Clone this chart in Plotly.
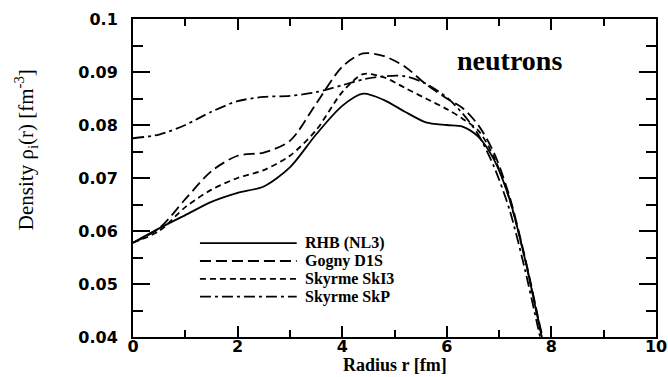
import plotly.graph_objects as go

# ---------------- data ----------------
radius = [0, 0.5, 1.0, 1.5, 2.0, 2.5, 3.0, 3.5, 4.0, 4.4, 4.8, 5.2, 5.6, 6.0, 6.3, 6.6, 6.9, 7.2, 7.5, 7.75, 7.95]

rhb_nl3 = [0.0578, 0.0605, 0.0630, 0.0655, 0.0672, 0.0684, 0.0720, 0.0782, 0.0836, 0.0859, 0.0847, 0.0825,
           0.0805, 0.0800, 0.0797, 0.0778, 0.0735, 0.0660, 0.0545, 0.0430, 0.0340]
gogny_d1s = [0.0578, 0.0605, 0.0660, 0.0713, 0.0742, 0.0748, 0.0770, 0.0840, 0.0910, 0.0935, 0.0930, 0.0910,
             0.0877, 0.0850, 0.0832, 0.0800, 0.0748, 0.0665, 0.0548, 0.0435, 0.0345]
skyrme_ski3 = [0.0578, 0.0600, 0.0645, 0.0678, 0.0700, 0.0715, 0.0742, 0.0790, 0.0862, 0.0896, 0.0890, 0.0870,
               0.0850, 0.0830, 0.0812, 0.0790, 0.0740, 0.0660, 0.0545, 0.0432, 0.0342]
skyrme_skp = [0.0775, 0.0782, 0.0800, 0.0825, 0.0845, 0.0853, 0.0855, 0.0862, 0.0875, 0.0886, 0.0892, 0.0892,
              0.0878, 0.0852, 0.0822, 0.0782, 0.0722, 0.0640, 0.0525, 0.0415, 0.0330]

series_names = ["RHB (NL3)", "Gogny D1S", "Skyrme SkI3", "Skyrme SkP"]
series_values = [rhb_nl3, gogny_d1s, skyrme_ski3, skyrme_skp]
series_dash = ["solid", "11px,5px", "6px,4px", "11px,4px,3px,4px"]

x_tick_vals = [0, 2, 4, 6, 8, 10]
x_tick_text = ["0", "2", "4", "6", "8", "10"]
y_tick_vals = [0.04, 0.05, 0.06, 0.07, 0.08, 0.09, 0.1]
y_tick_text = ["0.04", "0.05", "0.06", "0.07", "0.08", "0.09", "0.1"]

x_title = "<b>Radius r [fm]</b>"
y_title = "Density ρ<sub>i</sub>(r) [fm<sup>-3</sup>]"
panel_label = "<b>neutrons</b>"

# ---------------- figure ----------------
fig = go.Figure()
for name, vals, dash in zip(series_names, series_values, series_dash):
    fig.add_trace(go.Scatter(
        x=radius, y=vals, mode="lines", name=name, showlegend=False,
        line=dict(color="black", width=1.8, dash=dash, shape="spline", smoothing=0.8),
        cliponaxis=True,
    ))

tick_font = dict(family="DejaVu Sans", size=16, color="black", weight="bold")

fig.update_layout(
    width=668, height=377,
    margin=dict(l=133, r=12, t=19, b=40),
    paper_bgcolor="white", plot_bgcolor="white",
    xaxis=dict(
        range=[0, 10], tickvals=x_tick_vals, ticktext=x_tick_text,
        ticks="inside", ticklen=11, tickwidth=1.5, tickcolor="black",
        minor=dict(dtick=1, ticks="inside", ticklen=7, tickwidth=1.5, tickcolor="black"),
        showline=True, linecolor="black", linewidth=2, mirror="ticks",
        showgrid=False, zeroline=False, tickfont=tick_font, automargin=False,
        ticklabelstandoff=-6, ticklabeloverflow="allow",
    ),
    yaxis=dict(
        range=[0.04, 0.1], tickvals=y_tick_vals, ticktext=y_tick_text,
        ticks="inside", ticklen=17, tickwidth=1.5, tickcolor="black",
        minor=dict(dtick=0.005, ticks="inside", ticklen=10, tickwidth=1.5, tickcolor="black"),
        showline=True, linecolor="black", linewidth=2, mirror="ticks",
        showgrid=False, zeroline=False, tickfont=tick_font, automargin=False,
        ticklabelstandoff=10, ticklabeloverflow="allow",
    ),
)

# axis titles
fig.add_annotation(text=x_title, xref="paper", yref="paper", x=0.5, y=-0.087,
                   xanchor="center", yanchor="middle", showarrow=False,
                   font=dict(family="Liberation Serif", size=18, color="black"))
fig.add_annotation(text=y_title, xref="paper", yref="paper", x=-0.205, y=0.59,
                   xanchor="center", yanchor="middle", textangle=-90, showarrow=False,
                   font=dict(family="Liberation Serif", size=21, color="black"))

# "neutrons" label
fig.add_annotation(text=panel_label, xref="paper", yref="paper", x=0.72, y=0.87,
                   xanchor="center", yanchor="middle", showarrow=False,
                   font=dict(family="Liberation Serif", size=28, color="black"))

# legend (long key lines like the original)
leg_x0, leg_x1, leg_text_x = 0.128, 0.313, 0.325
leg_y0, leg_dy = 0.295, 0.056
for i, (name, dash) in enumerate(zip(series_names, series_dash)):
    yy = leg_y0 - i * leg_dy
    fig.add_shape(type="line", xref="paper", yref="paper", x0=leg_x0, x1=leg_x1, y0=yy, y1=yy,
                  line=dict(color="black", width=1.8, dash=dash))
    fig.add_annotation(text="<b>" + name + "</b>", xref="paper", yref="paper", x=leg_text_x, y=yy,
                       xanchor="left", yanchor="middle", showarrow=False,
                       font=dict(family="Liberation Serif", size=16, color="black"))

fig.write_html("out.html")
